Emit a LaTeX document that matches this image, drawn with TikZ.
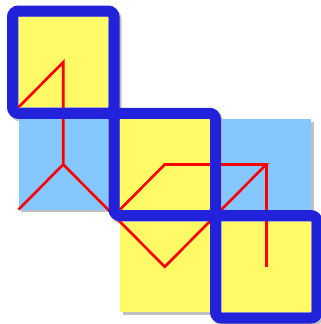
\documentclass[tikz,border=0pt]{standalone}
\definecolor{outlineblue}{RGB}{34,34,218}
\definecolor{cellyellow}{RGB}{255,250,102}
\definecolor{cellblue}{RGB}{132,200,255}
\definecolor{shade}{RGB}{192,192,192}
\begin{document}
\begin{tikzpicture}[x=1pt,y=-1pt,
  cellfill/.style={fill=#1},
  cellshadow/.style={fill=shade},
  redline/.style={draw=red,line width=2.6pt,line join=miter},
  outline/.style={draw=outlineblue,line width=11pt,rounded corners=6pt},
  outshadow/.style={draw=shade,line width=11pt,rounded corners=6pt}]
\useasboundingbox (0,0) rectangle (321,324);
% outline shadows
\foreach \a/\b/\c/\d in {12.5/11/114/113.3, 114/113.3/215.5/215.6, 215.5/215.6/317/318}
  \path[outshadow] (\a+2,\b+2.5) rectangle (\c+2,\d+2.5);
% cell fills with shadows
\foreach \a/\b/\c/\d/\col in {18.5/17/108/107.3/cellyellow, 120/119.3/209.5/209.6/cellyellow,
  221.5/221.6/311/312/cellyellow, 120/221.6/209.5/312/cellyellow,
  18.5/119.3/108/209.6/cellblue, 221.5/119.3/311/209.6/cellblue}{
  \path[cellshadow] (\a+2.5,\b+2.5) rectangle (\c+2.5,\d+2.5);
  \path[cellfill=\col] (\a,\b) rectangle (\c,\d);
}
% red path
\coordinate (p1) at (18.5,107.3);
\coordinate (c00) at (63.25,62.15);
\coordinate (c01) at (63.25,164.45);
\coordinate (p2) at (18.5,209.6);
\coordinate (c12) at (164.75,266.8);
\coordinate (c21) at (266.25,164.45);
\coordinate (c11) at (164.75,164.45);
\coordinate (p3) at (120,209.6);
\coordinate (c22) at (266.25,266.8);
\draw[redline] (p1) -- (c00) -- (c01) -- (p2);
\draw[redline] (c01) -- (c12) -- (c21) -- (c11) -- (p3);
\draw[redline] (c21) -- (c22);
% blue outlines
\draw[outline] (12.5,11) rectangle (114,113.3);
\draw[outline] (114,113.3) rectangle (215.5,215.6);
\draw[outline] (215.5,215.6) rectangle (317,318);
\end{tikzpicture}
\end{document}
